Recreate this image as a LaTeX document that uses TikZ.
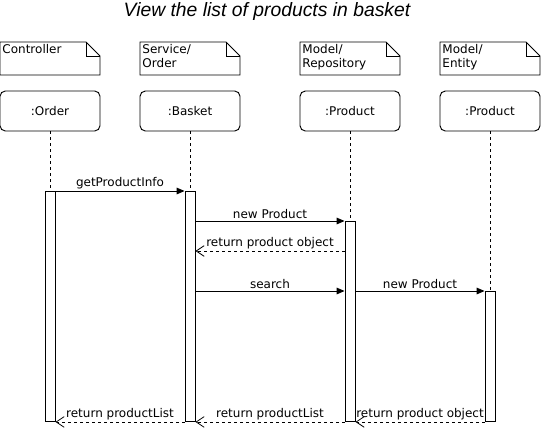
\documentclass[tikz,border=0pt]{standalone}
\usepackage{fontspec}
\setmainfont{DejaVu Sans}
\newfontfamily\titlefont{Liberation Sans}
\usetikzlibrary{arrows.meta}
\usetikzlibrary{positioning}

\begin{document}
\begin{tikzpicture}[x=0.75pt,y=-0.75pt,line width=0.7pt]
\tikzset{lifeobj/.style={rectangle,draw,rounded corners=4pt,outer sep=0pt,minimum width=75pt,minimum height=30pt,font=\fontsize{9}{10.5}\selectfont}}
\tikzset{notetext/.style={anchor=north west,inner sep=1.5pt,align=left,font=\fontsize{9}{10.5}\selectfont}}
\tikzset{actbar/.style={rectangle,draw,fill=white,minimum width=7.5pt,inner sep=0pt,anchor=north}}
\tikzset{lifeline/.style={line width=0.6pt,dash pattern=on 2.25pt off 2.25pt}}
\tikzset{msg/.style={-{Triangle[length=6pt,width=5pt]}}}
\tikzset{reply/.style={line width=0.6pt,dash pattern=on 2.25pt off 2.25pt,-{Straight Barb[length=6pt,width=8pt]}}}
\tikzset{msglabel/.style={above,inner sep=1.5pt,font=\fontsize{9}{10.5}\selectfont}}
\useasboundingbox (0,0) rectangle (541,432);
\node[font=\titlefont\itshape\fontsize{14.5}{17}\selectfont](title) at (267,12){View the list of products in basket};
% notes
\foreach \nx/\txt in {0/Controller,140/{Service/\\Order},300/{Model/\\Repository},440/{Model/\\Entity}}{
  \draw (\nx,42) -- ++(86,0) -- ++(14,14) -- ++(0,19) -- ++(-100,0) -- cycle;
  \draw (\nx+86,42) -- ++(0,14) -- ++(14,0);
  \node[notetext] at (\nx,42) {\txt};
}
% objects
\node[lifeobj](order) at (50,111){:Order};
\node[lifeobj](basket)[right=30pt of order]{:Basket};
\node[lifeobj](repo)[right=45pt of basket]{:Product};
\node[lifeobj](entity)[right=30pt of repo]{:Product};
% activations
\node[actbar,minimum height=172.5pt](a1) at (order |- 0,191){};
\node[actbar,minimum height=172.5pt](a2) at (basket |- 0,191){};
\node[actbar,minimum height=150pt](a3) at (repo |- 0,221){};
\node[actbar,minimum height=97.5pt](a4) at (entity |- 0,291){};
\draw[lifeline](order.south) -- (a1.north);
\draw[lifeline](basket.south) -- (a2.north);
\draw[lifeline](repo.south) -- (a3.north);
\draw[lifeline](entity.south) -- (a4.north);
% messages
\draw[msg](a1.north east) -- (a2.north west) node[msglabel,midway]{getProductInfo};
\draw[msg](a2.east |- a3.north) -- (a3.north west) node[msglabel,midway]{new Product};
\draw[reply](a3.west |- 0,251) -- (a2.east |- 0,251) node[msglabel,midway]{return product object};
\draw[msg](a2.east |- a4.north) -- (a3.west |- a4.north) node[msglabel,midway]{search};
\draw[msg](a3.east |- a4.north) -- (a4.north west) node[msglabel,midway]{new Product};
\draw[reply](a4.south west) -- (a3.south east) node[msglabel,midway]{return product object};
\draw[reply](a3.south west) -- (a2.south east) node[msglabel,midway]{return productList};
\draw[reply](a2.south west) -- (a1.south east) node[msglabel,midway]{return productList};
\end{tikzpicture}
\end{document}
